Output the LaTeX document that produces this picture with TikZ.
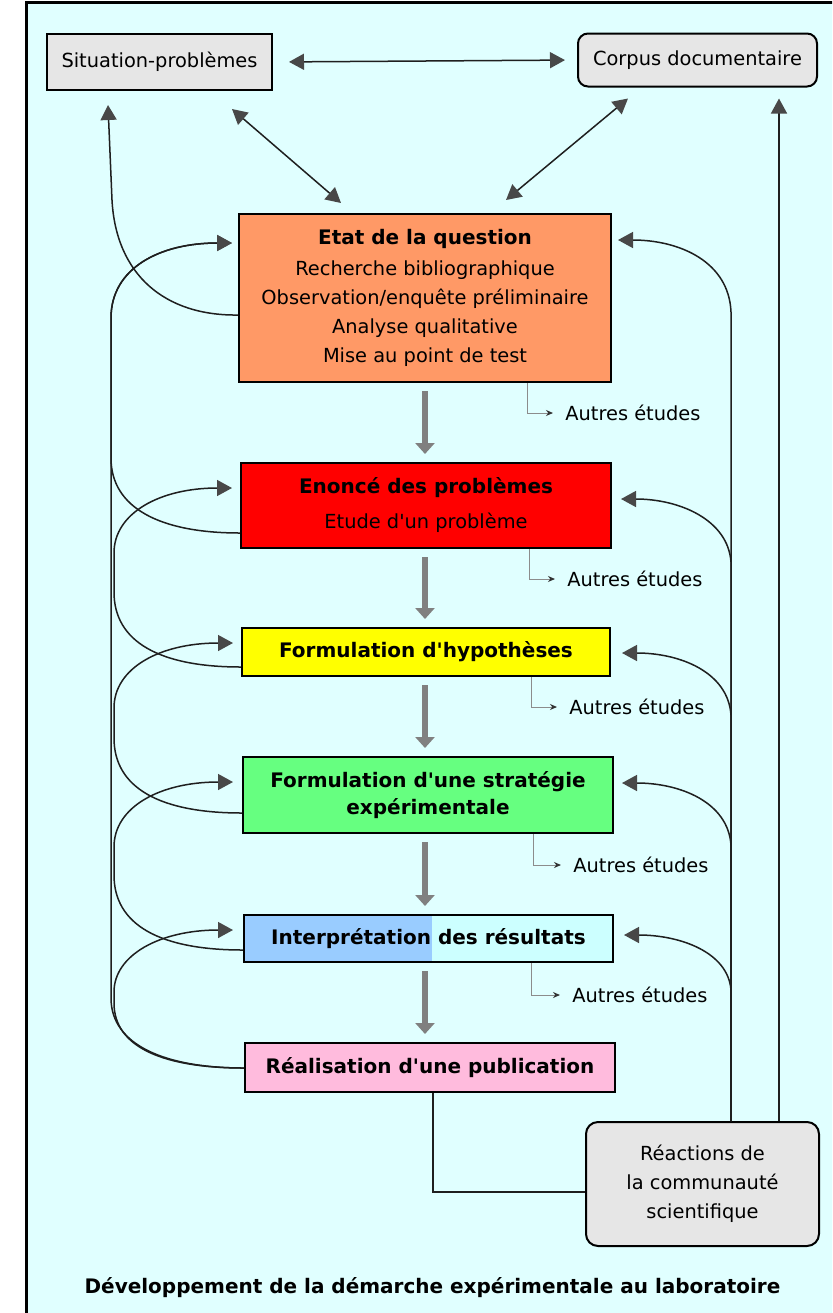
\documentclass[tikz,border=0pt]{standalone}
\usepackage{fontspec}
\setmainfont{DejaVu Sans}
\newfontfamily\dv{DejaVu Sans}
\usetikzlibrary{arrows.meta,calc}
\definecolor{bgcyan}{HTML}{E0FFFF}
\definecolor{boxgray}{HTML}{E6E6E6}
\definecolor{etatc}{HTML}{FF9966}
\definecolor{enoncec}{HTML}{FF0000}
\definecolor{hypc}{HTML}{FFFF00}
\definecolor{stratc}{HTML}{66FF80}
\definecolor{interpa}{HTML}{99CCFF}
\definecolor{interpb}{HTML}{CCFFFF}
\definecolor{realc}{HTML}{FFBBDD}
\definecolor{tipgray}{HTML}{484848}
\definecolor{flowgray}{HTML}{808080}

\begin{document}
\begin{tikzpicture}[x=0.5pt,y=-0.5pt,
  box/.style={draw=black, line width=1pt, inner sep=0pt, align=center, text=black},
  regtxt/.style={font=\dv\fontsize{9.7}{14.5}\selectfont},
  boldtxt/.style={font=\dv\fontsize{10}{13.5}\selectfont\bfseries},
  conn/.style={draw=black!88, line width=0.75pt},
  tip/.style={-{Triangle[length=7.5pt,width=8pt,color=tipgray]}},
  dtip/.style={{Triangle[length=7.5pt,width=8pt,color=tipgray]}-{Triangle[length=7.5pt,width=8pt,color=tipgray]}},
  flow/.style={draw=flowgray, line width=3pt, -{Triangle[length=5.5pt,width=9.5pt,color=flowgray]}, shorten <=4pt, shorten >=4pt},
  side/.style={draw=black!45, line width=0.5pt, -{Stealth[length=3.5pt,width=3pt,color=black!80]}, shorten >=6pt},
  other/.style={anchor=west, inner sep=0pt, font=\dv\fontsize{9.7}{12}\selectfont}
]
% page, background and frame
\useasboundingbox (0,0) rectangle (832,1313);
\clip (0,0) rectangle (832,1313);
\fill[white] (0,0) rectangle (832,1313);
\fill[bgcyan] (26.5,2.5) rectangle (840,1320);
\draw[line width=1.5pt] (26.5,1320) -- (26.5,2.5) -- (840,2.5);

% top sources
\node[box, fill=boxgray, minimum width=112.5pt, minimum height=28pt, regtxt] (sit) at (159.5,62) {Situation-problèmes};
\node[box, fill=boxgray, rounded corners=5pt, minimum width=119.5pt, minimum height=26.5pt, regtxt] (corpus) at (697.5,60) {Corpus documentaire};

% main steps
\node[box, fill=etatc, minimum width=186pt, minimum height=84pt, regtxt] (etat) at (425,298)
  {{\bfseries\fontsize{10}{13}\selectfont Etat de la question}\\[1pt]
   Recherche bibliographique\\ Observation/enquête préliminaire\\ Analyse qualitative\\ Mise au point de test};
\node[box, fill=enoncec, minimum width=185pt, minimum height=42.5pt, regtxt] (enonce) at (426,505.5)
  {{\bfseries\fontsize{10}{13}\selectfont Enoncé des problèmes}\\[3pt] Etude d'un problème};
\node[box, fill=hypc, minimum width=184pt, minimum height=24pt, boldtxt] (hyp) at (426,652) {Formulation d'hypothèses};
\node[box, fill=stratc, minimum width=185pt, minimum height=38pt, boldtxt] (strat) at (428,795) {Formulation d'une stratégie\\ expérimentale};
\fill[interpb] (244,915) rectangle (613,962);
\fill[interpa] (244,915) rectangle (432,962);
\node[box, minimum width=184.5pt, minimum height=23.5pt, boldtxt] (interp) at (428.5,938.5) {Interprétation des résultats};
\node[box, fill=realc, minimum width=185pt, minimum height=24.5pt, boldtxt] (real) at (430,1067.5) {Réalisation d'une publication};
\node[box, fill=boxgray, rounded corners=6pt, minimum width=116.5pt, minimum height=62pt, regtxt] (react) at (702.5,1184) {Réactions de\\ la communauté\\ scientifique};
\node[boldtxt, inner sep=0pt] (caption) at (432.5,1288) {Développement de la démarche expérimentale au laboratoire};

% side branches
\node[other] (ae1) at (565,413) {Autres études};
\node[other] (ae2) at (567,579) {Autres études};
\node[other] (ae3) at (569,707) {Autres études};
\node[other] (ae4) at (573,865) {Autres études};
\node[other] (ae5) at (572,995) {Autres études};
\draw[side] ($(etat.south)+(102,0)$) |- (ae1.west);
\draw[side] ($(enonce.south)+(103,0)$) |- (ae2.west);
\draw[side] ($(hyp.south)+(105,0)$) |- (ae3.west);
\draw[side] ($(strat.south)+(105,0)$) |- (ae4.west);
\draw[side] ($(interp.south)+(103,0)$) |- (ae5.west);

% main flow
\draw[flow] (etat.south) -- (etat.south |- enonce.north);
\draw[flow] (etat.south |- enonce.south) -- (etat.south |- hyp.north);
\draw[flow] (etat.south |- hyp.south) -- (etat.south |- strat.north);
\draw[flow] (etat.south |- strat.south) -- (etat.south |- interp.north);
\draw[flow] (etat.south |- interp.south) -- (etat.south |- real.north);

% exchanges at the top
\draw[conn,dtip,shorten <=8pt,shorten >=6pt] (sit.east) -- (corpus.west);
\draw[conn,dtip] ($(sit.south)+(72.5,18)$) -- ($(etat.north)+(-84,-10)$);
\draw[conn,dtip] ($(corpus.south)+(-69.5,11)$) -- ($(etat.north)+(81,-13)$);
\draw[conn,tip] ($(etat.west)+(0,17)$) .. controls (165,316) and (116,275) .. (112,200) -- ($(sit.south)+(-51.5,14)$);

% feedback loops on the left
\draw[conn,tip] ($(real.west)+(0,0.5)$) .. controls (165,1068) and (111,1045) .. (111,998) -- (111,318)
  .. controls (111,268) and (160,243) .. ($(etat.west)+(-6,-55)$);
\draw[conn,tip] ($(enonce.west)+(0,27.5)$) .. controls (160,533) and (111,508) .. (111,458) -- (111,318)
  .. controls (111,268) and (160,243) .. ($(etat.west)+(-6,-55)$);
\draw[conn,tip] ($(hyp.west)+(0,15)$) .. controls (160,667) and (114,642) .. (114,592) -- (114,553)
  .. controls (114,513) and (160,488) .. ($(enonce.west)+(-8,-17.5)$);
\draw[conn,tip] ($(strat.west)+(0,18)$) .. controls (160,813) and (114,788) .. (114,738) -- (114,708)
  .. controls (114,668) and (160,643) .. ($(hyp.west)+(-8,-9)$);
\draw[conn,tip] ($(interp.west)+(0,11.5)$) .. controls (160,950) and (114,925) .. (114,875) -- (114,847)
  .. controls (114,807) and (160,782) .. ($(strat.west)+(-9,-13)$);
\draw[conn,tip] ($(real.west)+(0,0.5)$) .. controls (165,1068) and (114,1048) .. (114,1003) -- (114,992)
  .. controls (114,955) and (160,930) .. ($(interp.west)+(-10,-8.5)$);

% reactions of the community
\coordinate (rt) at (731,0);
\coordinate (ctip) at ($(corpus.south east)+(-39,11)$);
\draw[conn] ($(real.south)+(3,0)$) |- ($(react.west)+(0,8)$);
\draw[conn,tip] (react.north -| ctip) -- (ctip);
\draw[conn,tip] (react.north -| rt) -- (731,312) .. controls (729,262) and (680,240) .. ($(etat.east)+(6,-58)$);
\draw[conn,tip] (react.north -| rt) -- (731,562) .. controls (728,520) and (680,499) .. ($(enonce.east)+(9,-6.5)$);
\draw[conn,tip] (react.north -| rt) -- (731,715) .. controls (728,672) and (680,653) .. ($(hyp.east)+(11,1)$);
\draw[conn,tip] (react.north -| rt) -- (731,845) .. controls (728,802) and (680,783) .. ($(strat.east)+(8,-12)$);
\draw[conn,tip] (react.north -| rt) -- (731,990) .. controls (728,952) and (680,935) .. ($(interp.east)+(10,-3.5)$);
\end{tikzpicture}
\end{document}
